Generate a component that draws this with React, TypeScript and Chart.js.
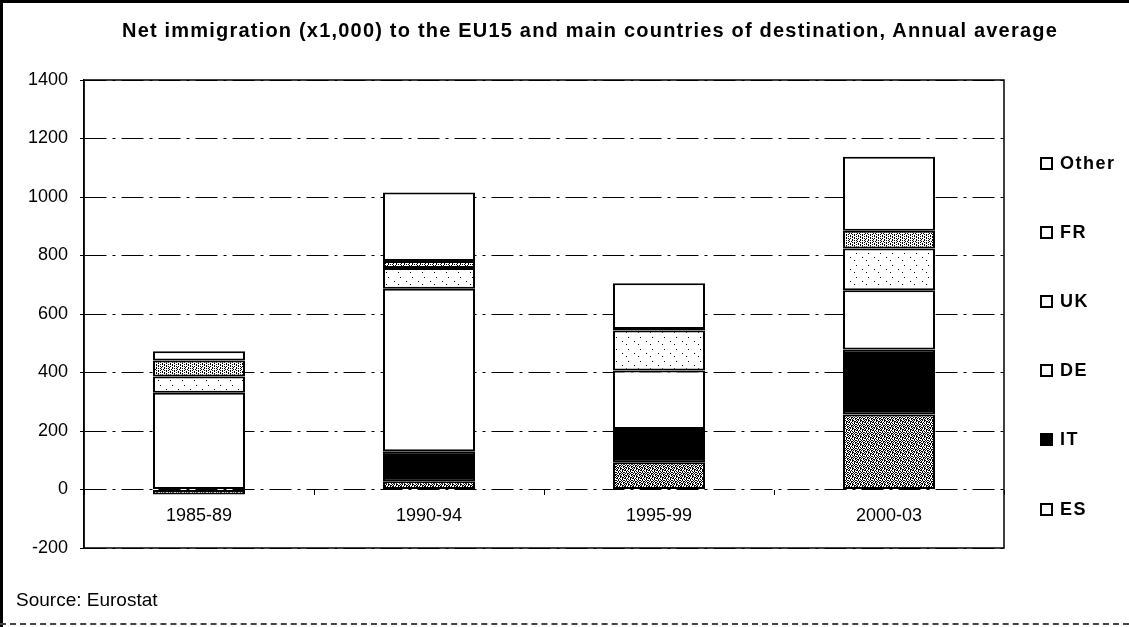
import React, { useEffect, useRef } from "react";
import { Chart, registerables } from "chart.js";

Chart.register(...registerables);

const categories = ["1985-89", "1990-94", "1995-99", "2000-03"];
const esValues = [-17, 28, 93, 256];
const itValues = [0, 103, 114, 223];
const deValues = [331, 555, 200, 202];
const ukValues = [55, 71, 137, 143];
const frValues = [55, 24, 5, 61];
const otherValues = [32, 234, 156, 253];
const yMin = -200;
const yMax = 1400;
const yStep = 200;
const legendLabels = ["Other", "FR", "UK", "DE", "IT", "ES"];
const titleText =
  "Net immigration (x1,000) to the EU15 and main countries of destination, Annual average";
const sourceText = "Source: Eurostat";

const FONT = '"Liberation Sans", Arial, Helvetica, sans-serif';

const esTile = [
  "#.#..#.#",
  ".#.##.#.",
  "#..#.#.#",
  ".##.#..#",
  "#.#.##..",
  ".#..#.##",
  "##.#..#.",
  "..#.#.#.",
];
const frTile = [
  "#...#.#.",
  ".#.#....",
  "#...#.#.",
  "..#...#.",
  "#.#.#...",
  "....#.#.",
  "#.#...#.",
  ".#..#...",
];
const ukTile = [
  "............",
  "....#.......",
  "............",
  "............",
  "............",
  "..........#.",
  "............",
  "............",
  "..#.........",
  "............",
  "............",
  "............",
];

function makePattern(ctx: CanvasRenderingContext2D, rows: string[]) {
  const c = document.createElement("canvas");
  c.width = rows[0].length;
  c.height = rows.length;
  const t = c.getContext("2d")!;
  t.fillStyle = "#fff";
  t.fillRect(0, 0, c.width, c.height);
  t.fillStyle = "#000";
  rows.forEach((r, y) =>
    r.split("").forEach((ch, x) => {
      if (ch === "#") t.fillRect(x, y, 1, 1);
    })
  );
  return ctx.createPattern(c, "repeat") as CanvasPattern;
}

const framePlugin = {
  id: "frame",
  beforeDatasetsDraw(chart: any) {
    const { ctx, chartArea: a } = chart;
    ctx.save();
    ctx.strokeStyle = "#000";
    ctx.lineWidth = 1.5;
    ctx.strokeRect(a.left, a.top, a.right - a.left, a.bottom - a.top);
    ctx.restore();
  },
};

export default function App() {
  const canvasRef = useRef<HTMLCanvasElement | null>(null);

  useEffect(() => {
    const canvas = canvasRef.current;
    if (!canvas) return;
    const ctx = canvas.getContext("2d")!;
    const esPat = makePattern(ctx, esTile);
    const frPat = makePattern(ctx, frTile);
    const ukPat = makePattern(ctx, ukTile);

    const mk = (label: string, data: number[], bg: any) => ({
      label,
      data,
      backgroundColor: bg,
      borderColor: "#000",
      borderWidth: 2,
      borderSkipped: false,
      barPercentage: 1,
      categoryPercentage: 0.4,
    });

    const chart = new Chart(canvas, {
      type: "bar",
      data: {
        labels: categories,
        datasets: [
          mk("ES", esValues, esPat),
          mk("IT", itValues, "#000"),
          mk("DE", deValues, "#fff"),
          mk("UK", ukValues, ukPat),
          mk("FR", frValues, frPat),
          mk("Other", otherValues, "#fff"),
        ] as any,
      },
      options: {
        animation: false,
        responsive: false,
        layout: { padding: { top: 80, right: 125, bottom: 79, left: 0 } },
        plugins: {
          legend: { display: false },
          title: { display: false },
          tooltip: { enabled: false },
        },
        scales: {
          x: {
            stacked: true,
            position: { y: 0 } as any,
            grid: {
              display: true,
              drawOnChartArea: false,
              drawTicks: true,
              tickLength: 5,
              color: "#000",
              offset: true,
            },
            border: { display: false },
            ticks: {
              color: "#000",
              font: { family: FONT, size: 18 },
              padding: 11,
              maxRotation: 0,
            },
          },
          y: {
            stacked: true,
            min: yMin,
            max: yMax,
            ticks: {
              stepSize: yStep,
              color: "#000",
              font: { family: FONT, size: 18 },
              padding: 12,
              callback: (v: any) => String(v),
            },
            grid: {
              color: "#000",
              lineWidth: 1,
              tickLength: 4,
              drawTicks: true,
              tickBorderDash: [],
            } as any,
            border: { display: true, color: "#000", width: 1.5, dash: [22, 6, 3, 6] },
            afterFit: (s: any) => {
              s.width = 84;
            },
          },
        },
      },
      plugins: [framePlugin],
    });
    return () => chart.destroy();
  }, []);

  const legendBoxStyle = (label: string): React.CSSProperties => ({
    width: 9,
    height: 9,
    border: "2px solid #000",
    background: label === "IT" ? "#000" : "#fff",
    marginRight: 7,
    boxSizing: "content-box",
  });

  return (
    <div
      style={{
        position: "fixed",
        left: 0,
        top: 0,
        width: 1129,
        height: 627,
        background: "#fff",
        overflow: "hidden",
        fontFamily: FONT,
      }}
    >
      <canvas ref={canvasRef} width={1129} height={627} style={{ position: "absolute", left: 0, top: 0 }} />
      <div style={{ position: "absolute", left: 0, top: 0, width: 1129, height: 3, background: "#000" }} />
      <div style={{ position: "absolute", left: 0, top: 0, width: 3, height: 627, background: "#000" }} />
      <div
        style={{
          position: "absolute",
          left: 0,
          top: 623,
          width: 1129,
          height: 0,
          borderTop: "2px dashed #444",
        }}
      />
      <div
        style={{
          position: "absolute",
          left: 90,
          width: 1000,
          top: 19,
          textAlign: "center",
          fontWeight: "bold",
          fontSize: 20,
          letterSpacing: 1.2,
          lineHeight: "22px",
          whiteSpace: "nowrap",
          color: "#000",
        }}
      >
        {titleText}
      </div>
      {legendLabels.map((l, i) => (
        <div
          key={l}
          style={{
            position: "absolute",
            left: 1040,
            top: 163 + i * 69.2 - 11,
            height: 22,
            display: "flex",
            alignItems: "center",
            fontWeight: "bold",
            fontSize: 18,
            letterSpacing: 1.5,
            color: "#000",
            whiteSpace: "nowrap",
          }}
        >
          <span style={legendBoxStyle(l)} />
          <span>{l}</span>
        </div>
      ))}
      <div
        style={{
          position: "absolute",
          left: 16,
          top: 589,
          fontSize: 19,
          lineHeight: "22px",
          color: "#000",
          whiteSpace: "nowrap",
        }}
      >
        {sourceText}
      </div>
    </div>
  );
}
